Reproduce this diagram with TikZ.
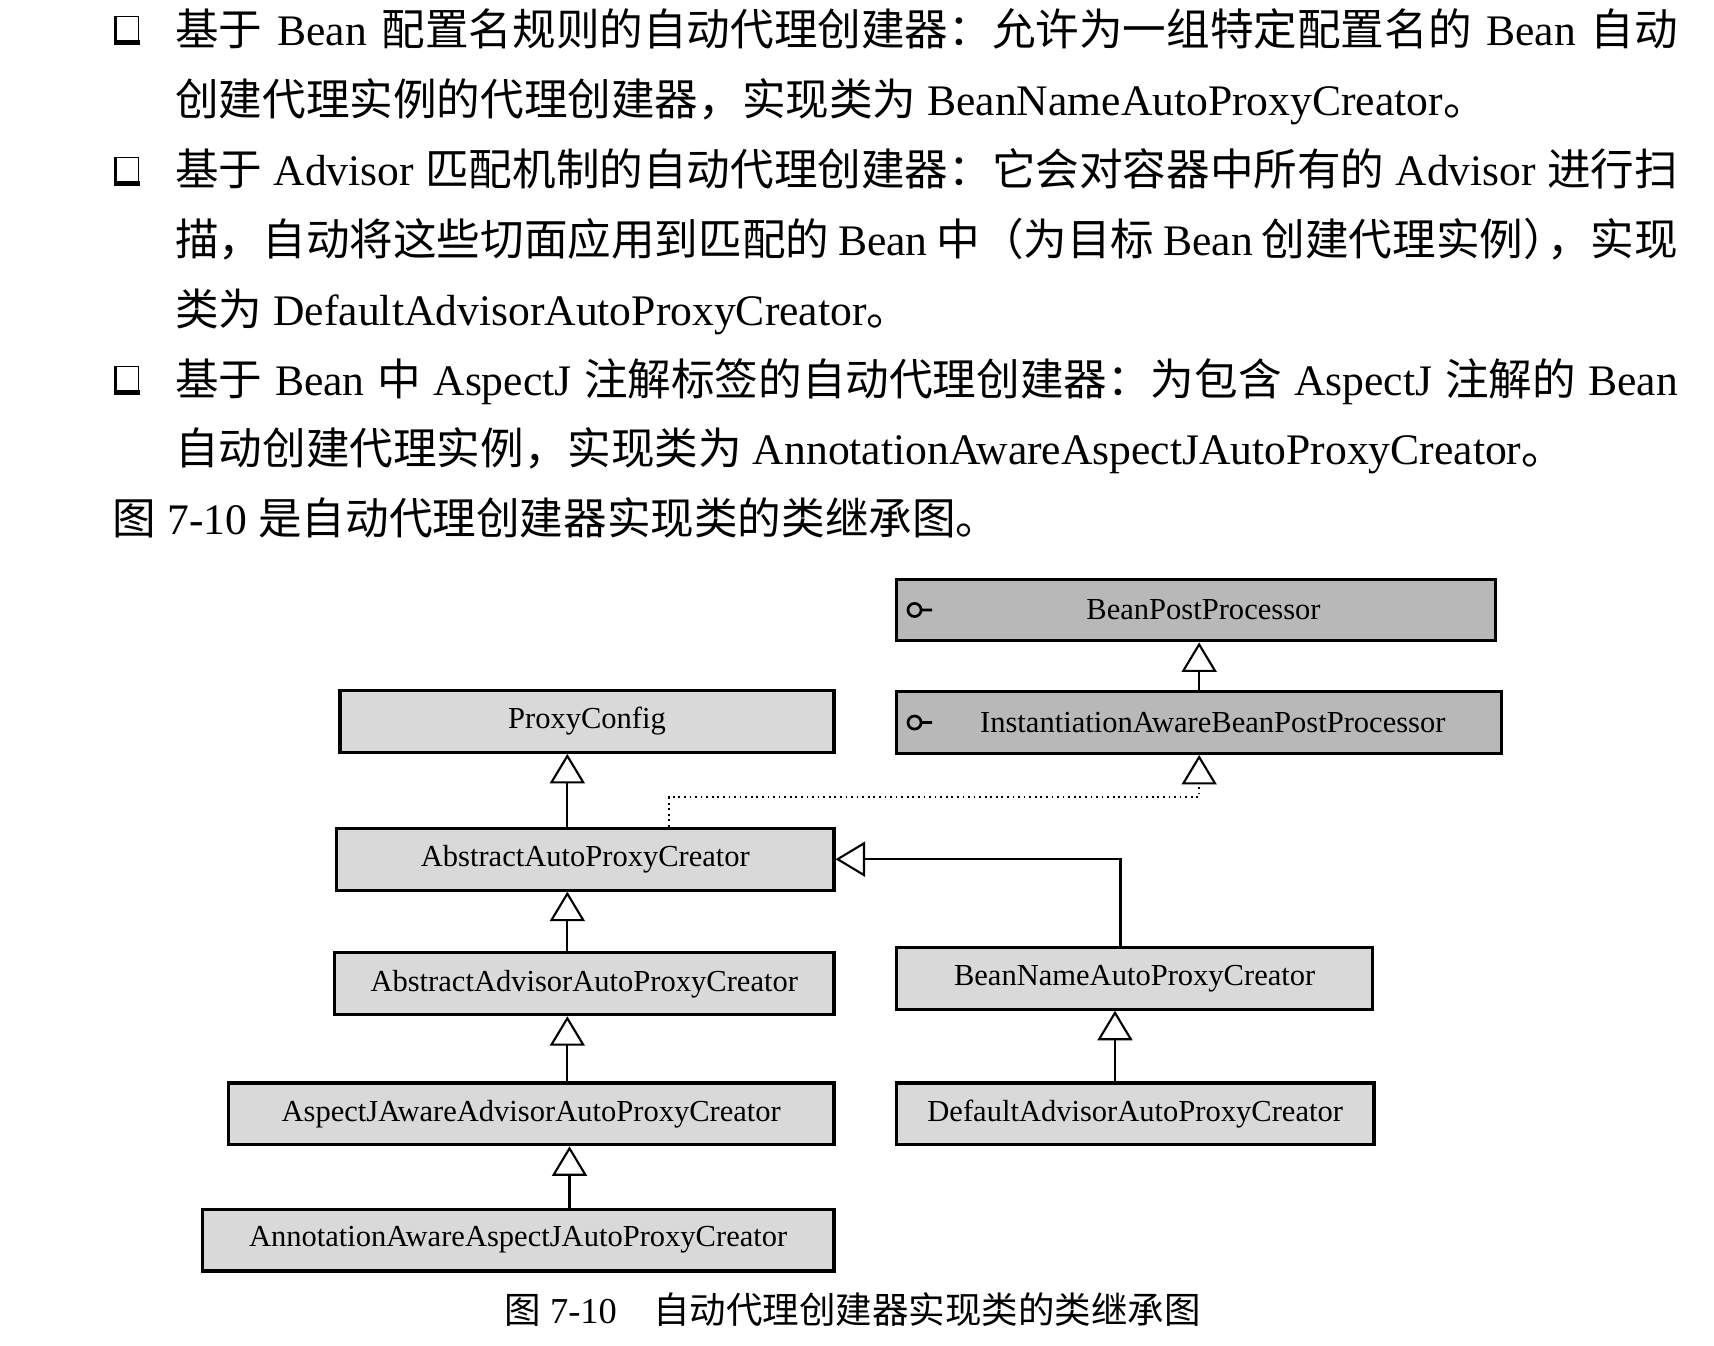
\documentclass[tikz,border=0pt]{standalone}
\usepackage{fontspec}
\setmainfont{Liberation Serif}
\newfontfamily\cjk{Noto Sans CJK SC}
\usetikzlibrary{arrows.meta}
\XeTeXlinebreaklocale "zh"
\XeTeXlinebreakskip=0pt plus 2pt minus 0.5pt
\newcommand{\zh}[1]{{\cjk #1}}
\newcommand{\fullline}[1]{\makebox[27.5cm][s]{#1}}
\definecolor{lightfill}{gray}{0.85}
\definecolor{darkfill}{gray}{0.72}
\tikzset{
  txt/.style={anchor=base west, inner sep=0pt, font=\fontsize{22.7}{27}\selectfont},
  cls/.style={draw, line width=1.6pt, fill=lightfill, minimum height=1.13cm, inner sep=0pt,
    font=\fontsize{15.9}{18}\selectfont},
  iface/.style={cls, fill=darkfill},
  gen/.style={-{Triangle[open, length=0.54cm, width=0.64cm, line width=1.1pt]}, line width=1.1pt},
  real/.style={gen, line width=0.9pt, dotted},
}
\begin{document}
\begin{tikzpicture}[x=0.02cm,y=-0.02cm]
  \useasboundingbox (0,0) rectangle (1568,1231);

  % running text above the figure
  \foreach \yy in {27,156,347}
    {\draw[line width=0.6pt] (105,\yy-12) rectangle (127,\yy+10);
     \fill (104,\yy+10) rectangle (128,\yy+14);
     \fill (104,\yy-12) rectangle (107,\yy+14);}
  \node[txt] (l1) at (160,42) {\fullline{\zh{基于} Bean \zh{配置名规则的自动代理创建器：允许为一组特定配置名的} Bean \zh{自动}}};
  \node[txt] (l2) at (160,106) {\zh{创建代理实例的代理创建器，实现类为} BeanNameAutoProxyCreator\zh{。}};
  \node[txt] (l3) at (160,170) {\fullline{\zh{基于} Advisor \zh{匹配机制的自动代理创建器：它会对容器中所有的} Advisor \zh{进行扫}}};
  \node[txt] (l4) at (160,234) {\fullline{\zh{描，自动将这些切面应用到匹配的} Bean \zh{中（为目标} Bean \zh{创建代理实例）}\kern-0.45em\zh{，实现}}};
  \node[txt] (l5) at (160,298) {\zh{类为} DefaultAdvisorAutoProxyCreator\zh{。}};
  \node[txt] (l6) at (160,362) {\fullline{\zh{基于} Bean \zh{中} AspectJ \zh{注解标签的自动代理创建器：为包含} AspectJ \zh{注解的} Bean}};
  \node[txt] (l7) at (160,425) {\zh{自动创建代理实例，实现类为} AnnotationAwareAspectJAutoProxyCreator\zh{。}};
  \node[txt] (l8) at (103,489) {\zh{图} 7-10 \zh{是自动代理创建器实现类的类继承图。}};

  % class boxes
  \node[iface, minimum width=10.96cm] (bpp) at (1094,558) {\hspace{0.28cm}BeanPostProcessor};
  \node[iface, minimum width=11.08cm] (iabpp) at (1097,661) {\hspace{0.5cm}InstantiationAwareBeanPostProcessor};
  \node[cls, minimum width=9.04cm] (proxycfg) at (537,660) {ProxyConfig};
  \node[cls, minimum width=9.1cm] (aapc) at (535.5,786) {AbstractAutoProxyCreator};
  \node[cls, minimum width=9.14cm] (aadvapc) at (534.5,900) {AbstractAdvisorAutoProxyCreator};
  \node[cls, minimum width=11.08cm] (ajaapc) at (486,1019) {AspectJAwareAdvisorAutoProxyCreator};
  \node[cls, minimum width=11.56cm] (aaajapc) at (474,1134.5) {AnnotationAwareAspectJAutoProxyCreator};
  \node[cls, minimum width=8.72cm] (bnapc) at (1038,895) {BeanNameAutoProxyCreator};
  \node[cls, minimum width=8.74cm] (dapc) at (1038.5,1019) {DefaultAdvisorAutoProxyCreator};

  % interface marks
  \draw[line width=1.4pt] ([xshift=0.36cm]bpp.west) circle (0.12cm) ++(0.12cm,0) -- ++(0.2cm,0);
  \draw[line width=1.4pt] ([xshift=0.36cm]iabpp.west) circle (0.12cm) ++(0.12cm,0) -- ++(0.2cm,0);

  % inheritance
  \draw[gen] (iabpp.north) -- (iabpp.north |- bpp.south);
  \draw[gen] ([xshift=-0.33cm]aapc.north) -- ([xshift=-0.33cm]aapc.north |- proxycfg.south);
  \draw[gen] ([xshift=-0.31cm]aadvapc.north) -- ([xshift=-0.31cm]aadvapc.north |- aapc.south);
  \draw[gen] ([xshift=0.66cm]ajaapc.north) -- ([xshift=0.66cm]ajaapc.north |- aadvapc.south);
  \draw[gen] ([xshift=0.94cm]aaajapc.north) -- ([xshift=0.94cm]aaajapc.north |- ajaapc.south);
  \draw[gen] ([xshift=-0.37cm]dapc.north) -- ([xshift=-0.37cm]dapc.north |- bnapc.south);
  \draw[gen] ([xshift=-0.26cm]bnapc.north) |- (aapc.east);
  \draw[real] ([xshift=1.53cm]aapc.north) -- ++(0,-27) -| (iabpp.south);

  \node[inner sep=0pt, anchor=base, font=\fontsize{19}{22}\selectfont] (caption) at (780,1211)
    {\zh{图} 7-10\hspace{1em}\zh{自动代理创建器实现类的类继承图}};
\end{tikzpicture}
\end{document}
